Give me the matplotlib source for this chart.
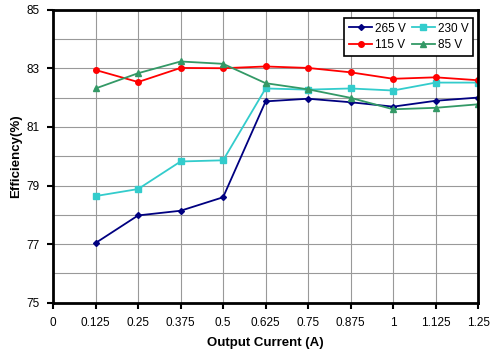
import matplotlib
matplotlib.use("Agg")
import matplotlib.pyplot as plt

plt.rcParams['font.family'] = ['Liberation Sans', 'DejaVu Sans']

# Daten
strom = [0.125, 0.25, 0.375, 0.5, 0.625, 0.75, 0.875, 1, 1.125, 1.25]
eff_265 = [77.04, 77.98, 78.14, 78.60, 81.87, 81.96, 81.84, 81.69, 81.89, 82.00]
eff_230 = [78.64, 78.88, 79.82, 79.86, 82.31, 82.27, 82.31, 82.24, 82.51, 82.51]
eff_115 = [82.94, 82.53, 83.01, 83.00, 83.06, 83.01, 82.86, 82.64, 82.69, 82.59]
eff_85 = [82.31, 82.83, 83.23, 83.15, 82.49, 82.28, 81.99, 81.60, 81.65, 81.77]

x_ticks = [0, 0.125, 0.25, 0.375, 0.5, 0.625, 0.75, 0.875, 1, 1.125, 1.25]
x_labels = ["0", "0.125", "0.25", "0.375", "0.5", "0.625", "0.75", "0.875", "1", "1.125", "1.25"]
y_ticks = [75, 77, 79, 81, 83, 85]

fig = plt.figure(figsize=(4.96, 3.55), dpi=100)
ax = fig.add_axes([0.107, 0.147, 0.857, 0.826])

l265, = ax.plot(strom, eff_265, marker="D", markersize=3, linewidth=1.3, color="#000080", label="265 V")
l230, = ax.plot(strom, eff_230, marker="s", markersize=4, linewidth=1.3, color="#33CCCC", label="230 V")
l115, = ax.plot(strom, eff_115, marker="o", markersize=4, linewidth=1.3, color="#FF0000", label="115 V")
l85, = ax.plot(strom, eff_85, marker="^", markersize=4.5, linewidth=1.3, color="#339966", label="85 V")

ax.set_xlim(0, 1.25)
ax.set_ylim(75, 85)
ax.set_xticks(x_ticks)
ax.set_xticklabels(x_labels)
ax.set_yticks(y_ticks)
ax.set_yticks(range(75, 86), minor=True)
ax.tick_params(axis="both", which="major", labelsize=8.5, direction="out", length=4, width=1.5, pad=6)
ax.tick_params(axis="y", which="minor", length=0)
ax.grid(True, which="both", color="#999999", linewidth=0.8)
ax.set_axisbelow(True)
for s in ax.spines.values():
    s.set_linewidth(2)

ax.set_xlabel("Output Current (A)", fontsize=9.5, fontweight="bold", labelpad=6)
ax.set_ylabel("Efficiency(%)", fontsize=9.5, fontweight="bold", labelpad=3)

# Legende: Reihenfolge so, dass Zeile 1 = 265/230, Zeile 2 = 115/85
leg = ax.legend([l265, l115, l230, l85], ["265 V", "115 V", "230 V", "85 V"],
                loc="upper right", ncol=2, fontsize=8.5, frameon=True, fancybox=False,
                edgecolor="black", bbox_to_anchor=(0.988, 0.972), borderaxespad=0,
                handlelength=2.0, columnspacing=0.5, handletextpad=0.2, labelspacing=0.4,
                borderpad=0.4)
leg.get_frame().set_linewidth(1.2)
leg.get_frame().set_alpha(1)

plt.savefig("out.png", dpi=100)
